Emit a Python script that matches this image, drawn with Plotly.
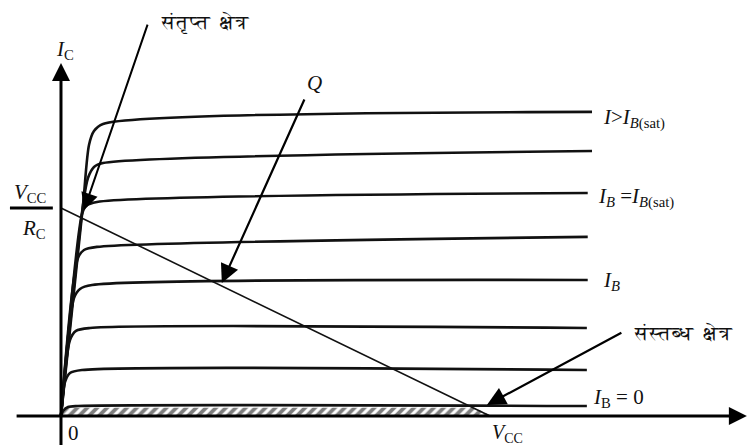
import plotly.graph_objects as go

# Output characteristics of a CE transistor (V in volts, I in mA, scaled
# so that V_CC = 10 and V_CC / R_C = 10)
VCC = 10.0
VCC_RC = 10.0

CURVE_V = [
    [0, 0.513, 0.653, 0.769, 0.979, 12.38],
    [0, 0.513, 0.629, 0.769, 0.979, 12.38],
    [0, 0.49, 0.583, 0.839, 12.28],
    [0, 0.396, 0.536, 0.839, 12.28],
    [0, 0.303, 0.443, 0.723, 12.28],
    [0, 0.21, 0.35, 0.676, 12.26],
    [0, 0.093, 0.21, 0.49, 12.26],
    [0, 0.047, 0.163, 0.396, 12.26],
]
CURVE_I = [
    [0, 10.14, 13.03, 13.7, 14.04, 14.62],
    [0, 10.14, 11.44, 11.97, 12.16, 12.74],
    [0, 9.71, 10.1, 10.29, 10.72],
    [0, 7.6, 7.98, 8.13, 8.61],
    [0, 5.67, 6.11, 6.30, 6.54],
    [0, 3.65, 4.09, 4.23, 4.23],
    [0, 1.63, 2.07, 2.21, 2.21],
    [0, 0.24, 0.43, 0.48, 0.48],
]

# load line end points
LOAD_V = [0, VCC]
LOAD_I = [VCC_RC, 0]

# cut-off (hatched) band under the I_B = 0 curve
CUTOFF_V = [0, 0.1, 9.65, 10.05, 0]
CUTOFF_I = [0, 0.4, 0.4, 0, 0]

SERIF = "Liberation Serif"
DEVA = "FreeSerif, Noto Serif Devanagari, Noto Sans Devanagari, serif"

fig = go.Figure()

# hatched cut-off region
fig.add_trace(go.Scatter(
    x=CUTOFF_V, y=CUTOFF_I, mode="lines", fill="toself",
    line=dict(width=0, color="black"),
    fillcolor="black",
    fillpattern=dict(shape="/", fgcolor="black", bgcolor="white",
                     size=7, solidity=0.55),
    hoverinfo="skip", showlegend=False,
))

# I_B curves
for cv, ci in zip(CURVE_V, CURVE_I):
    fig.add_trace(go.Scatter(
        x=cv, y=ci, mode="lines",
        line=dict(color="#111111", width=2.6, shape="spline", smoothing=0.8),
        hoverinfo="skip", showlegend=False,
    ))

# load line
fig.add_trace(go.Scatter(
    x=LOAD_V, y=LOAD_I, mode="lines",
    line=dict(color="#111111", width=1.6),
    hoverinfo="skip", showlegend=False,
))

# V_CC / R_C fraction bar
fig.add_shape(type="line", x0=-1.19, x1=-0.19, y0=VCC_RC, y1=VCC_RC,
              line=dict(color="black", width=3))


def arrow(x, y, ax, ay, width=2, size=1.6):
    fig.add_annotation(x=x, y=y, ax=ax, ay=ay, xref="x", yref="y",
                       axref="x", ayref="y", text="", showarrow=True,
                       arrowhead=2, arrowsize=size, arrowwidth=width,
                       arrowcolor="black")


# axes with arrow heads
arrow(15.99, 0, -1.07, 0, width=3, size=1.2)
arrow(0, 16.97, 0, -1.46, width=3, size=1.2)

# pointer arrows
arrow(0.536, 9.90, 2.03, 18.89, width=2, size=1.7)
arrow(3.75, 6.39, 5.69, 15.29, width=2.2, size=1.7)
arrow(9.93, 0.53, 13.10, 4.04, width=2.2, size=1.7)


def label(x, y, text, size=21, family=SERIF, anchor="left"):
    fig.add_annotation(x=x, y=y, xref="x", yref="y", text=text,
                       showarrow=False, xanchor=anchor, yanchor="middle",
                       borderpad=0,
                       font=dict(family=family, size=size, color="#111111"))


label(2.31, 18.9, "संतृप्त  क्षेत्र", size=20, family=DEVA)
label(13.33, 4.0, "संस्तब्ध  क्षेत्र", size=20, family=DEVA)
label(5.92, 16.0, "<i>Q</i>", anchor="center")
label(-0.14, 17.6, "<i>I</i><sub>C</sub>")
label(-0.72, 10.7, "<i>V</i><sub>CC</sub>", anchor="center")
label(-0.63, 9.0, "<i>R</i><sub>C</sub>", anchor="center")
label(12.61, 14.28, "<i>I</i>&gt;<i>I</i><sub><i>B</i>(sat)</sub>")
label(12.49, 10.5, "<i>I</i><sub><i>B</i></sub> =<i>I</i><sub><i>B</i>(sat)</sub>")
label(12.61, 6.5, "<i>I</i><sub><i>B</i></sub>")
label(12.38, 0.87, "<i>I</i><sub>B</sub> = 0")
label(0.28, -0.8, "0", size=21, anchor="center")
label(10.42, -0.85, "<i>V</i><sub>CC</sub>", size=20, anchor="center")

fig.update_layout(
    width=749, height=447, autosize=False,
    margin=dict(l=0, r=0, t=0, b=0),
    paper_bgcolor="white", plot_bgcolor="white",
    font=dict(family=SERIF, color="#111111"),
    xaxis=dict(range=[-1.422, 16.04], visible=False, fixedrange=True),
    yaxis=dict(range=[-1.49, 20.0], visible=False, fixedrange=True),
    showlegend=False,
)

# drop the default page margin so the figure sits at the window corner
fig.write_html("out.html",
               config={"displayModeBar": False, "staticPlot": True},
               post_script="document.body.style.margin='0';"
                           "document.body.style.overflow='hidden';")
